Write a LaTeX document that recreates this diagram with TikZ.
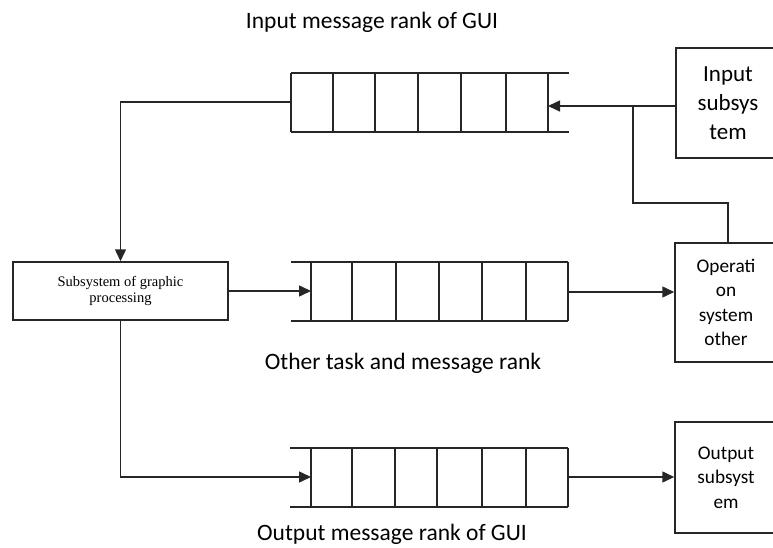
\documentclass[tikz,border=0pt]{standalone}
\usepackage{fontspec}
\setmainfont{Carlito}
\newfontfamily\serifface{Liberation Serif}
\usetikzlibrary{arrows.meta}

\tikzset{
  line/.style={line width=1.5pt, draw=black!85},
  conn/.style={line, -{Triangle[length=12pt,width=11pt]}},
  sysbox/.style={draw=black!85, line width=1.5pt, align=center, inner sep=0pt,
                 font=\fontsize{19.3}{24.5}\selectfont},
  lbl/.style={font=\fontsize{23.5}{28}\selectfont, inner sep=0pt},
}

\begin{document}
\begin{tikzpicture}[x=1pt,y=-1pt]
\path[use as bounding box] (0,0) rectangle (773,548);
\clip (0,0) rectangle (773,548);

% --- boxes ---
\node[sysbox, minimum width=215pt, minimum height=58pt,
      font=\serifface\fontsize{14.5}{16}\selectfont] (gp) at (120.5,291)
      {Subsystem of graphic\\processing};
\node[sysbox, minimum width=104pt, minimum height=110pt,
      font=\fontsize{23}{29}\selectfont] (inp) at (728,103) {Input\\subsys\\tem};
\node[sysbox, minimum width=102pt, minimum height=119pt] (op) at (726,302.5)
      {Operati\\on\\system\\other};
\node[sysbox, minimum width=102pt, minimum height=111pt] (out) at (726,477.5)
      {Output\\subsyst\\em};

% --- queue of GUI input messages (closed left, open right) ---
\draw[line] (291,73) -- (569,73) (291,132) -- (569,132);
\foreach \x in {291,333,375,418,461,506,548} \draw[line] (\x,73) -- (\x,132);
\coordinate (q1in) at (548,106);
\coordinate (q1out) at (291,102);

% --- queue of other tasks (open left, closed right) ---
\draw[line] (291,262) -- (568,262) (291,321) -- (568,321);
\foreach \x in {311,352,396,439,482,526,568} \draw[line] (\x,262) -- (\x,321);
\coordinate (q2in) at (311,291);
\coordinate (q2out) at (568,292);

% --- queue of GUI output messages (open left, closed right) ---
\draw[line] (290,448) -- (568,448) (290,507) -- (568,507);
\foreach \x in {311,352,395,437,482,526,568} \draw[line] (\x,448) -- (\x,507);
\coordinate (q3in) at (311,477);
\coordinate (q3out) at (568,477);

% --- connectors ---
\coordinate (j1) at (633,106);
\coordinate (j2) at (728,203);
\draw[conn] ([yshift=-3pt]inp.west) -- (q1in);
\draw[line] (j1) |- (j2) -- (j2 |- op.north);
\draw[conn] (q1out) -| (gp.north);
\draw[conn] (gp.east) -- (q2in);
\draw[conn] (q2out) -- (q2out -| op.west);
\draw[conn] (gp.south) |- (q3in);
\draw[conn] (q3out) -- (q3out -| out.west);

% --- labels ---
\node[lbl] (l1) at (372,22) {Input message rank of GUI};
\node[lbl] (l2) at (403,363) {Other task and message rank};
\node[lbl] (l3) at (392,534) {Output message rank of GUI};
\end{tikzpicture}
\end{document}
